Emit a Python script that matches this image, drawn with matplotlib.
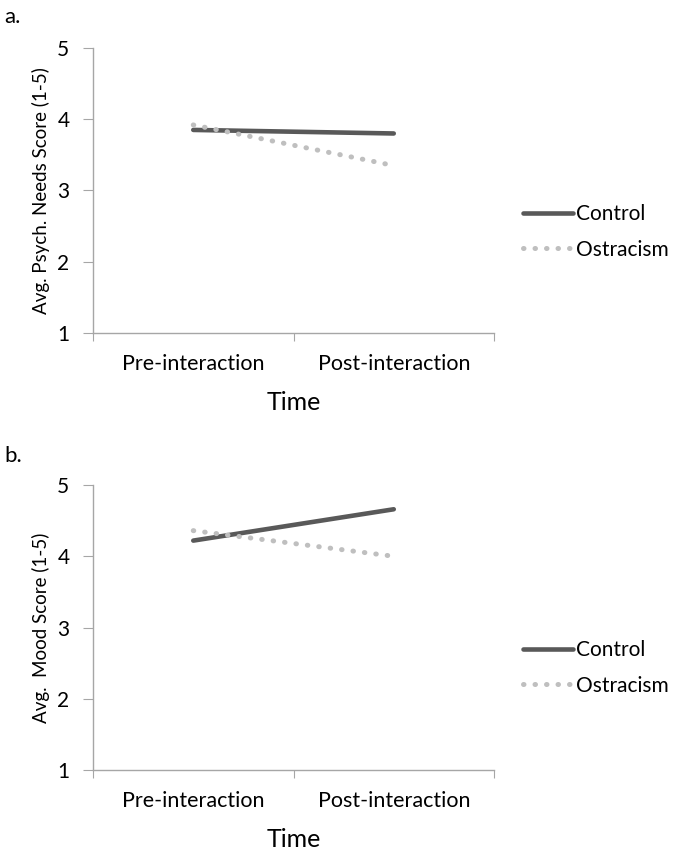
import numpy as np
import matplotlib
matplotlib.use("Agg")
import matplotlib.pyplot as plt

plt.rcParams['font.family'] = ['Lato', 'DejaVu Sans']

categories = ["Pre-interaction", "Post-interaction"]
series_names = ["Control", "Ostracism"]

# panel a: psychological needs
needs_control = [3.85, 3.80]
needs_ostracism = [3.92, 3.35]

# panel b: mood
mood_control = [4.22, 4.66]
mood_ostracism = [4.36, 4.00]

yticks = [1, 2, 3, 4, 5]

dark = "#595959"
light = "#bfbfbf"
axcol = "#a6a6a6"

fig = plt.figure(figsize=(6.77, 8.55), dpi=100)

panels = [
    ("a.", [0.1374, 0.6105, 0.5923, 0.3334], needs_control, needs_ostracism,
     "Avg. Psych. Needs Score (1-5)", 0.992, 0.729),
    ("b.", [0.1374, 0.0994, 0.5923, 0.3333], mood_control, mood_ostracism,
     "Avg.  Mood Score (1-5)", 0.478, 0.219),
]

for tag, rect, ctrl, ostr, ylab, tag_y, leg_y in panels:
    ax = fig.add_axes(rect)
    x = np.arange(len(categories))
    ax.plot(x, ctrl, color=dark, lw=3.3, solid_capstyle='round', label=series_names[0])
    ax.plot(x, ostr, color=light, lw=3.6, linestyle=(0, (0.1, 2.2)),
            dash_capstyle='round', label=series_names[1])
    ax.set_xlim(-0.5, 1.5)
    ax.set_ylim(1, 5)
    ax.set_yticks(yticks)
    ax.set_xticks([-0.5, 0.5, 1.5])
    ax.set_xticklabels([])
    ax.set_xticks(x, minor=True)
    ax.set_xticklabels(categories, minor=True, fontsize=15.5)
    ax.tick_params(axis='x', which='minor', length=0, pad=15)
    ax.tick_params(axis='x', which='major', length=6, color=axcol, direction='out')
    ax.tick_params(axis='y', length=7, color=axcol, labelsize=15, pad=10)
    for s in ['top', 'right']:
        ax.spines[s].set_visible(False)
    for s in ['left', 'bottom']:
        ax.spines[s].set_color(axcol)
        ax.spines[s].set_linewidth(1)
    ax.set_xlabel("Time", fontsize=18, labelpad=12)
    ax.set_ylabel(ylab, fontsize=13.5, labelpad=5)
    fig.text(0.006, tag_y, tag, fontsize=16, va='top')
    ax.legend(loc='center left', bbox_to_anchor=(0.773, leg_y), bbox_transform=fig.transFigure,
              frameon=False, fontsize=15, handlelength=2.4, handletextpad=0.15,
              labelspacing=0.75, borderpad=0, borderaxespad=0)

fig.savefig("out.png", dpi=100)
